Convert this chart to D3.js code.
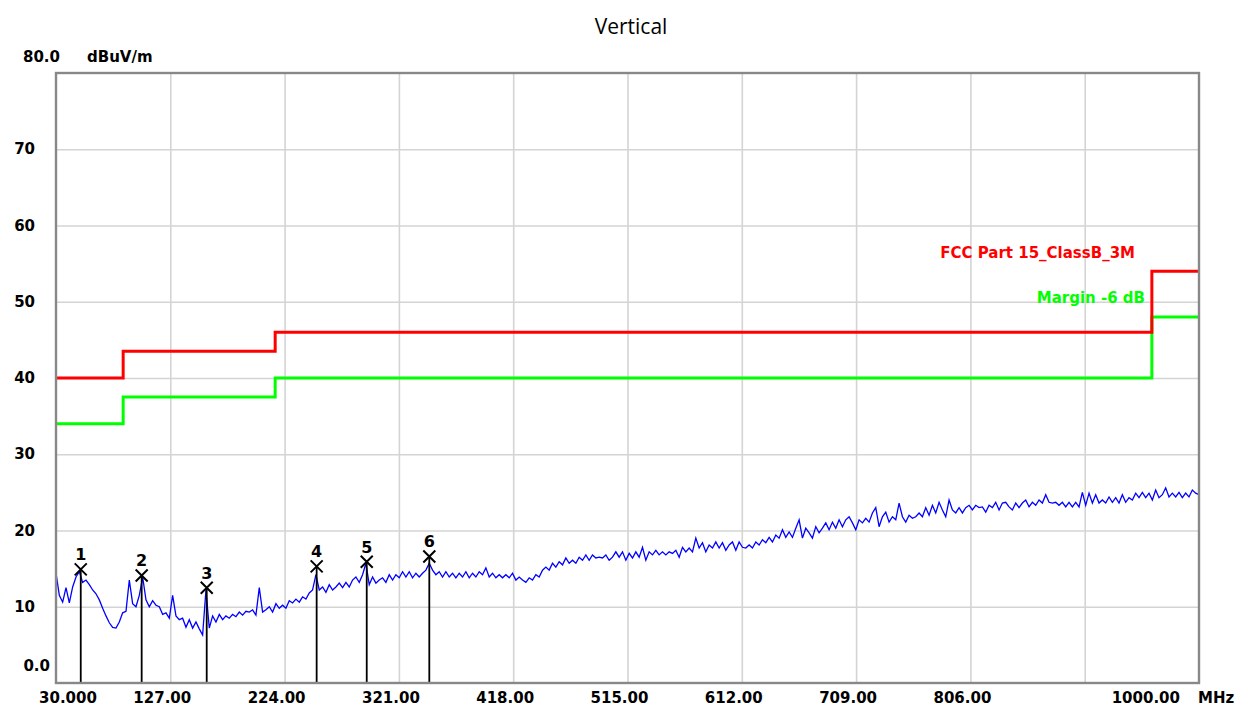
<!DOCTYPE html>
<html>
<head>
<meta charset="utf-8">
<script src="https://cdn.jsdelivr.net/npm/d3@7"></script>
<style>
  html, body { margin: 0; padding: 0; background: #fff; }
  svg { display: block; }
  .lbl { font-family: "DejaVu Sans", sans-serif; font-weight: bold; font-size: 15px; fill: #000; }
</style>
</head>
<body>
<div class="chart"></div>
<script>
// axis ticks
const freqTicks = [30, 127, 224, 321, 418, 515, 612, 709, 806, 903, 1000];
const freqTickLabels = ['30.000', '127.00', '224.00', '321.00', '418.00', '515.00', '612.00', '709.00', '806.00', '', '1000.00'];
const levelTicks = [0, 10, 20, 30, 40, 50, 60, 70, 80];
const levelTickLabels = ['0.0', '10', '20', '30', '40', '50', '60', '70', '80.0'];

// FCC limit + margin lines (step after each break)
const limitFreqs = [30, 87, 216, 960, 1000];
const limitLevels = [40, 43.5, 46, 54, 54];
const marginLevels = [34, 37.5, 40, 48, 48];

// measured trace, sweep points evenly spaced 30..1000 MHz
const traceLevels = [
  14.4, 11.5, 10.6, 12.5, 10.5, 12.6, 13.9, 14.6, 13.2, 13.5,
  12.9, 12.2, 11.7, 10.9, 9.8, 8.8, 7.9, 7.3, 7.2, 8.0,
  9.2, 9.4, 13.5, 10.4, 10.0, 11.5, 13.9, 10.9, 10.0, 10.8,
  10.2, 10.0, 9.0, 9.2, 8.5, 11.5, 8.8, 8.3, 8.5, 7.3,
  8.3, 7.2, 8.0, 7.1, 6.3, 12.2, 7.2, 8.8, 8.0, 9.0,
  8.3, 8.8, 8.5, 9.0, 8.7, 9.3, 8.9, 9.4, 9.3, 9.6,
  8.9, 12.5, 9.3, 9.6, 10.0, 9.3, 10.4, 9.8, 10.2, 9.8,
  10.8, 10.5, 11.0, 10.6, 11.3, 11.0, 11.8, 12.2, 14.2, 12.2,
  12.6, 11.9, 12.9, 12.2, 12.6, 13.1, 12.5, 13.2, 12.6, 13.5,
  13.9, 13.2, 14.2, 15.7, 12.9, 13.9, 13.1, 13.5, 13.8, 13.2,
  14.2, 13.5, 14.2, 13.8, 14.6, 13.9, 14.6, 13.8, 14.4, 13.9,
  14.4, 14.8, 15.7, 14.8, 14.2, 14.6, 13.9, 14.6, 13.9, 14.4,
  13.8, 14.4, 13.9, 14.6, 13.8, 14.4, 13.9, 14.6, 14.2, 15.1,
  13.9, 14.4, 13.8, 14.2, 13.8, 14.2, 13.8, 14.4, 13.5, 13.9,
  13.5, 13.2, 13.8, 13.5, 14.2, 13.9, 14.8, 15.2, 14.8, 15.7,
  15.2, 15.9, 15.5, 16.4, 15.7, 16.1, 15.7, 16.5, 16.1, 16.8,
  16.1, 16.8, 16.4, 16.5, 16.4, 16.8, 16.1, 16.5, 17.2, 16.5,
  17.2, 16.1, 17.0, 16.4, 17.2, 16.5, 17.8, 16.1, 17.2, 16.8,
  17.4, 16.8, 17.2, 16.8, 17.2, 17.0, 17.4, 16.5, 17.8, 17.2,
  17.7, 17.2, 19.0, 17.7, 18.4, 17.2, 18.1, 17.7, 18.5, 17.7,
  18.4, 17.4, 18.1, 18.5, 17.4, 18.5, 17.8, 17.7, 18.1, 17.7,
  18.5, 18.1, 18.8, 18.4, 19.1, 18.5, 19.4, 19.0, 20.1, 19.1,
  19.8, 19.1, 20.3, 21.4, 19.0, 20.3, 19.7, 19.0, 20.5, 19.7,
  20.3, 21.0, 20.1, 21.1, 20.3, 21.4, 20.5, 21.4, 21.8, 21.0,
  20.1, 21.4, 21.0, 21.6, 21.1, 22.3, 23.0, 20.5, 21.8, 22.4,
  21.1, 21.8, 21.4, 23.6, 21.8, 21.1, 22.0, 21.6, 21.8, 22.3,
  21.8, 23.0, 22.0, 23.3, 22.3, 23.7, 22.7, 21.8, 24.0, 22.7,
  22.3, 23.0, 22.3, 23.0, 23.3, 22.7, 23.3, 23.0, 23.1, 22.4,
  23.3, 23.0, 23.7, 22.7, 23.6, 23.7, 23.1, 22.7, 23.6, 23.0,
  23.6, 24.0, 23.1, 23.7, 23.3, 24.0, 23.6, 24.7, 23.7, 23.6,
  23.7, 23.3, 23.7, 23.1, 23.7, 23.1, 23.7, 23.1, 25.0, 23.3,
  24.9, 23.6, 24.7, 23.6, 24.0, 23.6, 24.4, 23.7, 24.3, 23.6,
  24.7, 23.7, 24.3, 24.0, 24.9, 24.3, 25.0, 24.3, 24.9, 24.0,
  25.3, 24.3, 24.7, 25.6, 24.4, 24.9, 24.4, 25.0, 24.3, 24.9,
  24.4, 25.3, 24.9, 24.7
];

// peak markers
const markerIds = [1, 2, 3, 4, 5, 6];
const markerFreqs = [51.0, 102.7, 157.9, 251.2, 293.7, 346.8];
const markerLevels = [14.9, 14.1, 12.5, 15.3, 15.9, 16.6];

const W = 1248, H = 707;
const plot = { left: 56, right: 1199, top: 73, bottom: 683 };

const x = d3.scaleLinear().domain([30, 1000]).range([plot.left, plot.right]);
const y = d3.scaleLinear().domain([0, 80]).range([plot.bottom, plot.top]);

const svg = d3.select('.chart').append('svg')
    .attr('width', W)
    .attr('height', H);

svg.append('rect').attr('width', W).attr('height', H).attr('fill', '#fff');

// title
svg.append('text')
    .attr('x', 631).attr('y', 34)
    .attr('text-anchor', 'middle')
    .style('font-family', '"Open Sans", sans-serif')
    .style('font-size', '21px')
    .text('Vertical');

// grid via axes
const gridX = svg.append('g')
    .attr('transform', `translate(0,${plot.bottom})`)
    .call(d3.axisBottom(x).tickValues(freqTicks.slice(1, -1)).tickSize(-(plot.bottom - plot.top)).tickFormat(''));
const gridY = svg.append('g')
    .attr('transform', `translate(${plot.left},0)`)
    .call(d3.axisLeft(y).tickValues(levelTicks.slice(1, -1)).tickSize(-(plot.right - plot.left)).tickFormat(''));
[gridX, gridY].forEach(g => {
    g.select('.domain').remove();
    g.selectAll('line').attr('stroke', '#d4d4d4').attr('stroke-width', 1.6);
});

// limit lines
const stepLine = levels => d3.line()
    .x((d, i) => x(limitFreqs[i]))
    .y(d => y(d))
    .curve(d3.curveStepAfter)(levels);

svg.append('path')
    .attr('d', stepLine(marginLevels))
    .attr('fill', 'none').attr('stroke', '#00ff00').attr('stroke-width', 3);
svg.append('path')
    .attr('d', stepLine(limitLevels))
    .attr('fill', 'none').attr('stroke', '#ff0000').attr('stroke-width', 3);

svg.append('text').attr('class', 'lbl')
    .attr('x', 1135).attr('y', 258)
    .attr('text-anchor', 'end')
    .style('fill', '#ff0000')
    .text('FCC Part 15_ClassB_3M');
svg.append('text').attr('class', 'lbl')
    .attr('x', 1145).attr('y', 303)
    .attr('text-anchor', 'end')
    .style('fill', '#00ff00')
    .text('Margin -6 dB');

// trace
const step = (1000 - 30) / (traceLevels.length - 1);
const traceLine = d3.line()
    .x((d, i) => x(30 + i * step))
    .y(d => y(d));
svg.append('path')
    .attr('d', traceLine(traceLevels))
    .attr('fill', 'none')
    .attr('stroke', '#0000ff')
    .attr('stroke-width', 1.3);

// markers
const markers = markerIds.map((id, i) => ({ id, f: markerFreqs[i], v: markerLevels[i] }));
const mg = svg.append('g').selectAll('g')
    .data(markers)
    .join('g')
    .attr('transform', d => `translate(${x(d.f)},${y(d.v)})`);

mg.append('line')
    .attr('x1', 0).attr('x2', 0)
    .attr('y1', 0).attr('y2', d => plot.bottom - y(d.v))
    .attr('stroke', '#000').attr('stroke-width', 1.8);
mg.append('path')
    .attr('d', 'M-6,-6L6,6M-6,6L6,-6')
    .attr('stroke', '#000').attr('stroke-width', 2).attr('fill', 'none');
mg.append('text').attr('class', 'lbl')
    .attr('y', -9)
    .attr('text-anchor', 'middle')
    .style('font-size', '16px')
    .text(d => d.id);

// frame
svg.append('rect')
    .attr('x', plot.left).attr('y', plot.top)
    .attr('width', plot.right - plot.left).attr('height', plot.bottom - plot.top)
    .attr('fill', 'none').attr('stroke', '#888').attr('stroke-width', 2.4);

// x tick labels
svg.append('g').selectAll('text')
    .data(freqTicks)
    .join('text')
    .attr('class', 'lbl')
    .attr('x', (d, i) => {
        if (i === 0) return x(d) + 12;
        if (i === freqTicks.length - 1) return x(d) - 19;
        return x(d) - 8;
    })
    .attr('y', 703)
    .attr('text-anchor', (d, i) => i === freqTicks.length - 1 ? 'end' : 'middle')
    .text((d, i) => freqTickLabels[i]);
svg.append('text').attr('class', 'lbl')
    .attr('x', 1198).attr('y', 703)
    .text('MHz');

// y tick labels
svg.append('g').selectAll('text')
    .data(levelTicks)
    .join('text')
    .attr('class', 'lbl')
    .attr('x', (d, i) => {
        if (i === 0) return 50;
        if (i === levelTicks.length - 1) return 23;
        return 35;
    })
    .attr('y', (d, i) => {
        if (i === 0) return y(d) - 12;
        if (i === levelTicks.length - 1) return y(d) - 11;
        return y(d) + 5;
    })
    .attr('text-anchor', (d, i) => i === levelTicks.length - 1 ? 'start' : 'end')
    .text((d, i) => levelTickLabels[i]);
svg.append('text').attr('class', 'lbl')
    .attr('x', 87).attr('y', 62)
    .text('dBuV/m');
</script>
</body>
</html>
